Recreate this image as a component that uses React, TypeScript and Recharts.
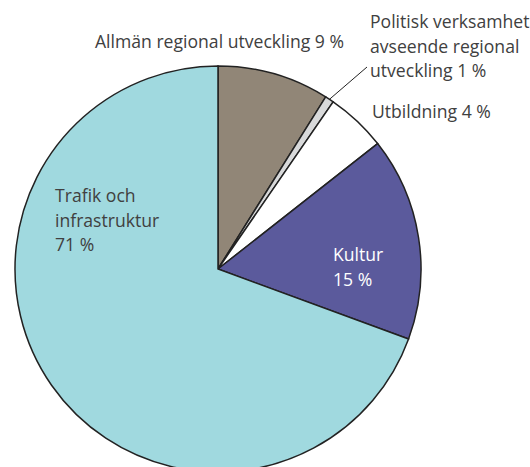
import React from "react";
import { PieChart, Pie, Cell } from "recharts";

const categories = [
  "Allmän regional utveckling",
  "Politisk verksamhet avseende regional utveckling",
  "Utbildning",
  "Kultur",
  "Trafik och infrastruktur",
];
const shares = [8.9, 0.7, 4.8, 16.2, 69.4];
const labelLines = [
  ["Allmän regional utveckling 9 %"],
  ["Politisk verksamhet", "avseende regional", "utveckling 1 %"],
  ["Utbildning 4 %"],
  ["Kultur", "15 %"],
  ["Trafik och", "infrastruktur", "71 %"],
];
const colors = ["#918677", "#d8d9da", "#ffffff", "#5b5a9c", "#a0d9df"];
const textColors = ["#404040", "#404040", "#404040", "#ffffff", "#404040"];

const data = categories.map((name, i) => ({ name, value: shares[i] }));

// label layout offsets relative to pie centre
const labelOffsets = [
  { dx: -123, dy: -221 },
  { dx: 152, dy: -241 },
  { dx: 154, dy: -151 },
  { dx: 115, dy: -8 },
  { dx: -163, dy: -67 },
];
const LINE_H = 24.5;
const RAD = Math.PI / 180;

const renderLabel = (props: any) => {
  const { cx, cy, midAngle, outerRadius, index } = props;
  const off = labelOffsets[index];
  const x = cx + off.dx;
  const y = cy + off.dy;
  const lines = labelLines[index];
  let leader = null;
  if (index === 1) {
    const sx = cx + outerRadius * Math.cos(-midAngle * RAD);
    const sy = cy + outerRadius * Math.sin(-midAngle * RAD);
    leader = (
      <line x1={sx} y1={sy} x2={x - 3} y2={y + 39} stroke="#222" strokeWidth={1} />
    );
  }
  return (
    <g key={`lbl-${index}`}>
      {leader}
      <text
        x={x}
        y={y}
        fill={textColors[index]}
        fontFamily="'Open Sans', Lato, sans-serif"
        fontWeight={400}
        fontSize={17.6}
        textAnchor="start"
      >
        {lines.map((l, j) => (
          <tspan key={j} x={x} y={y + j * LINE_H}>
            {l}
          </tspan>
        ))}
      </text>
    </g>
  );
};

export default function App() {
  return (
    <div style={{ position: "absolute", left: 0, top: 0, width: 530, height: 467, background: "#fff" }}>
      <PieChart width={530} height={467} margin={{ top: 0, right: 0, bottom: 0, left: 0 }}>
        <Pie
          data={data}
          dataKey="value"
          nameKey="name"
          cx={218}
          cy={269}
          outerRadius={203}
          startAngle={90}
          endAngle={-270}
          stroke="#222"
          strokeWidth={1.5}
          label={renderLabel}
          labelLine={false}
          isAnimationActive={false}
        >
          {data.map((d, i) => (
            <Cell key={d.name} fill={colors[i]} />
          ))}
        </Pie>
      </PieChart>
    </div>
  );
}
